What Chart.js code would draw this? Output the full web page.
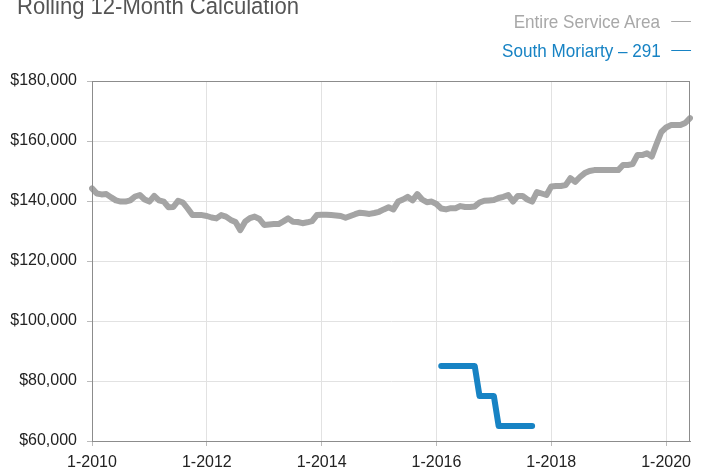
<!DOCTYPE html>
<html>
<head>
<meta charset="utf-8">
<script src="https://cdn.jsdelivr.net/npm/chart.js@4/dist/chart.umd.min.js"></script>
<style>
  html, body { margin: 0; padding: 0; background: #fff; overflow: hidden; }
  #wrap { position: relative; width: 705px; height: 468px; }
  #wrap canvas { position: absolute; left: 0; top: 0; }
  .title {
    position: absolute; left: 17px; top: -6px;
    font: 24.5px "Liberation Sans", Arial, sans-serif; line-height: 24px;
    color: #555; white-space: nowrap;
    transform: scaleX(0.9); transform-origin: left top;
  }
  .legend-row {
    position: absolute; right: 14px;
    font: 19px "Liberation Sans", Arial, sans-serif; line-height: 19px;
    white-space: nowrap;
    transform: scaleX(0.9); transform-origin: right top;
  }
  .legend-row .dash {
    display: inline-block; width: 22px; height: 1.5px;
    margin-left: 12px; vertical-align: 6px;
  }
  .gray { color: #a8a8a8; }
  .gray .dash { background: #a8a8a8; }
  .blue { color: #1783c4; }
  .blue .dash { background: #1783c4; }
</style>
</head>
<body>
<div id="wrap">
  <canvas id="chart" width="705" height="468"></canvas>
  <div class="title">Rolling 12-Month Calculation</div>
  <div class="legend-row gray" style="top:12px">Entire Service Area<span class="dash"></span></div>
  <div class="legend-row blue" style="top:41px">South Moriarty – 291<span class="dash"></span></div>
</div>
<script>
// Month labels, 1-2010 through 6-2020
const months = [];
for (let y = 2010; y <= 2020; y++) {
  for (let m = 1; m <= 12; m++) {
    if (months.length < 126) months.push(m + '-' + y);
  }
}

// Entire Service Area, rolling 12-month median (one value per month)
const serviceArea = [
  144200, 142500, 142200, 142300, 141200, 140200, 139800, 139800, 140200, 141500, 142000, 140500,
  139800, 141700, 140200, 139800, 137900, 138000, 140100, 139500, 137500, 135300, 135300, 135300,
  135000, 134500, 134200, 135300, 134800, 133700, 133000, 130300, 133100, 134300, 134800, 134000,
  132000, 132200, 132300, 132300, 133200, 134200, 133100, 133000, 132600, 132900, 133300, 135300,
  135400, 135400, 135300, 135200, 135000, 134400, 135000, 135600, 136100, 135900, 135700, 136000,
  136400, 137200, 137900, 137200, 139800, 140500, 141400, 140200, 142300, 140500, 139600, 139800,
  139000, 137500, 137200, 137600, 137600, 138300, 138000, 138000, 138200, 139500, 140100, 140200,
  140300, 141000, 141400, 142000, 139800, 141700, 141700, 140500, 139800, 143000, 142500, 142000,
  144800, 145000, 145000, 145300, 147600, 146400, 148000, 149300, 150000, 150300, 150300, 150300,
  150300, 150300, 150300, 152000, 152000, 152300, 155300, 155300, 155900, 154800, 159000, 163000,
  164500, 165300, 165300, 165300, 166000, 167600
];

// South Moriarty - 291, starts 2-2016
const southStart = '2-2016';
const southMoriarty = [
  85000, 85000, 85000, 85000, 85000, 85000, 85000, 85000,
  75000, 75000, 75000, 75000,
  65000, 65000, 65000, 65000, 65000, 65000, 65000, 65000
];

const yTicks = [60000, 80000, 100000, 120000, 140000, 160000, 180000];

const startIdx = months.indexOf(southStart);
const southData = southMoriarty.map((v, i) => ({ x: months[startIdx + i], y: v }));

// draws the frame around the plot area
const frame = {
  id: 'frame',
  afterDraw(chart) {
    const a = chart.chartArea;
    const ctx = chart.ctx;
    ctx.save();
    ctx.strokeStyle = '#8c8c8c';
    ctx.lineWidth = 1;
    ctx.strokeRect(Math.round(a.left) + 0.5, Math.round(a.top) + 0.5,
      Math.round(a.right - a.left) - 1, Math.round(a.bottom - a.top));
    ctx.restore();
  }
};

const tickFont = { family: '"Liberation Sans", Arial, sans-serif', size: 16 };

new Chart(document.getElementById('chart'), {
  type: 'line',
  data: {
    labels: months,
    datasets: [
      {
        label: 'Entire Service Area',
        data: serviceArea,
        borderColor: '#a4a4a4',
        borderWidth: 6,
        borderCapStyle: 'round',
        borderJoinStyle: 'round',
        pointRadius: 0,
        tension: 0
      },
      {
        label: 'South Moriarty – 291',
        data: southData,
        borderColor: '#1783c4',
        borderWidth: 6,
        borderCapStyle: 'round',
        borderJoinStyle: 'round',
        pointRadius: 0,
        tension: 0
      }
    ]
  },
  options: {
    responsive: false,
    animation: false,
    layout: { padding: { top: 81, right: 15, left: 0, bottom: 0 } },
    plugins: {
      legend: { display: false },
      tooltip: { enabled: false }
    },
    scales: {
      x: {
        type: 'category',
        afterFit: s => { s.height = 27; },
        border: { color: '#8c8c8c' },
        grid: { color: '#e2e2e2', tickColor: '#bbbbbb', tickLength: 5 },
        ticks: {
          autoSkip: false,
          maxRotation: 0,
          padding: 7,
          color: '#222',
          font: tickFont,
          callback: function(v, i) {
            return i % 24 === 0 ? months[i] : null;
          }
        }
      },
      y: {
        min: 60000,
        max: 180000,
        afterFit: s => { s.width = 92; },
        afterBuildTicks: s => { s.ticks = yTicks.map(v => ({ value: v })); },
        border: { color: '#8c8c8c' },
        grid: { color: '#e2e2e2', tickColor: '#bbbbbb', tickLength: 5 },
        ticks: {
          padding: 10,
          color: '#222',
          font: tickFont,
          callback: v => '$' + v.toLocaleString('en-US')
        }
      }
    }
  },
  plugins: [frame]
});
</script>
</body>
</html>
